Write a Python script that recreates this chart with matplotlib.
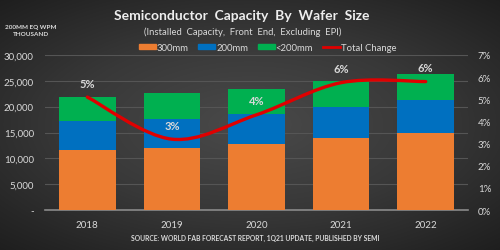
import matplotlib.pyplot as plt
import numpy as np
from matplotlib.path import Path
from matplotlib.patches import PathPatch, Patch
from matplotlib.lines import Line2D
from matplotlib.ticker import FuncFormatter
from matplotlib.colors import LinearSegmentedColormap

plt.rcParams['font.family'] = ['Lato', 'DejaVu Sans']

years = ['2018', '2019', '2020', '2021', '2022']
cap_300 = [11600, 12000, 12700, 13900, 14900]
cap_200 = [5600, 5600, 5800, 6000, 6300]
cap_lt200 = [4600, 5000, 5000, 5000, 5200]
total_change = [5.1, 3.2, 4.3, 5.75, 5.8]
change_labels = ['5%', '3%', '4%', '6%', '6%']

c_300 = '#ED7D31'
c_200 = '#0070C0'
c_lt = '#00B050'
c_red = '#E00000'
txt = '#d9d9d9'

fig = plt.figure(figsize=(5, 2.51), dpi=100)

# dark radial background
bg = fig.add_axes([0, 0, 1, 1], zorder=-10)
yy, xx = np.mgrid[-1:1:251j, -1:1:500j]
r = np.sqrt((xx * 0.85) ** 2 + (yy * 0.9) ** 2)
cmap = LinearSegmentedColormap.from_list('bg', ['#4a4a4a', '#383838', '#1e1e1e'])
bg.imshow(r, cmap=cmap, vmin=0, vmax=1.25, aspect='auto', extent=[0, 1, 0, 1])
bg.axis('off')

ax = fig.add_axes([0.09, 0.159, 0.846, 0.618])
ax.set_facecolor('none')
x = np.arange(len(years))
w = 0.67
b1 = np.array(cap_300)
b2 = b1 + np.array(cap_200)
ax.bar(x, cap_300, w, color=c_300, zorder=3)
ax.bar(x, cap_200, w, bottom=b1, color=c_200, zorder=3)
ax.bar(x, cap_lt200, w, bottom=b2, color=c_lt, zorder=3)
ax.set_xlim(-0.5, 4.5)
ax.set_ylim(0, 30000)
ax.set_yticks(range(0, 30001, 5000))
ax.yaxis.set_major_formatter(FuncFormatter(lambda v, p: '-' if v == 0 else f'{int(v):,}'))
ax.set_xticks(x)
ax.set_xticklabels(years)
ax.grid(axis='y', color='#555555', lw=0.8, zorder=0)
for s in ['top', 'right', 'left']:
    ax.spines[s].set_visible(False)
ax.spines['bottom'].set_color('#8a8a8a')
ax.spines['bottom'].set_linewidth(1.2)
ax.tick_params(colors=txt, labelsize=7, length=0)
ax.tick_params(axis='x', pad=7)
ax.tick_params(axis='y', pad=8)

ax2 = ax.twinx()
ax2.set_ylim(0, 7)
ax2.set_yticks(range(0, 8))
ax2.yaxis.set_major_formatter(FuncFormatter(lambda v, p: f'{int(v)}%'))
ax2.tick_params(colors=txt, labelsize=7, length=0, pad=7)
for s in ax2.spines.values():
    s.set_visible(False)

# smoothed line (Catmull-Rom style bezier through the data points)
pts = np.column_stack([x, total_change]).astype(float)
ext = np.vstack([pts[0], pts, pts[-1]])
verts = [tuple(pts[0])]
codes = [Path.MOVETO]
for i in range(len(pts) - 1):
    p0, p1, p2, p3 = ext[i], ext[i + 1], ext[i + 2], ext[i + 3]
    verts += [tuple(p1 + (p2 - p0) / 6), tuple(p2 - (p3 - p1) / 6), tuple(p2)]
    codes += [Path.CURVE4] * 3
ax2.add_patch(PathPatch(Path(verts, codes), fc='none', ec=c_red, lw=2.4,
                        capstyle='round', zorder=5))
for xi, yi, lab in zip(x, total_change, change_labels):
    ax2.annotate(lab, (xi, yi), xytext=(0, 6), textcoords='offset points',
                 ha='center', va='bottom', color=txt, fontsize=8, fontweight='bold')

fig.text(0.484, 0.935, 'Semiconductor  Capacity  By  Wafer  Size', ha='center',
         va='center', color='#eeeeee', fontsize=10, fontweight='bold')
fig.text(0.486, 0.872, '(Installed  Capacity,  Front  End,  Excluding  EPI)',
         ha='center', va='center', color=txt, fontsize=6.8)
fig.text(0.062, 0.876, '200MM EQ WPM\nTHOUSAND', ha='center', va='center',
         color=txt, fontsize=4.6, fontweight='bold', linespacing=1.5)
fig.text(0.51, 0.05, 'SOURCE: WORLD FAB FORECAST REPORT, 1Q21 UPDATE, PUBLISHED BY SEMI',
         ha='center', va='center', color=txt, fontsize=4.9, fontweight='bold')

handles = [Patch(color=c_300, label='300mm'), Patch(color=c_200, label='200mm'),
           Patch(color=c_lt, label='<200mm'), Line2D([], [], color=c_red, lw=2, label='Total Change')]
fig.legend(handles=handles, loc='center', bbox_to_anchor=(0.535, 0.808), ncol=4,
           frameon=False, fontsize=6.8, labelcolor=txt, handlelength=1.8,
           handleheight=0.55, handletextpad=0.1, columnspacing=1.0)

fig.savefig('out.png', dpi=100, facecolor='#2a2a2a')
